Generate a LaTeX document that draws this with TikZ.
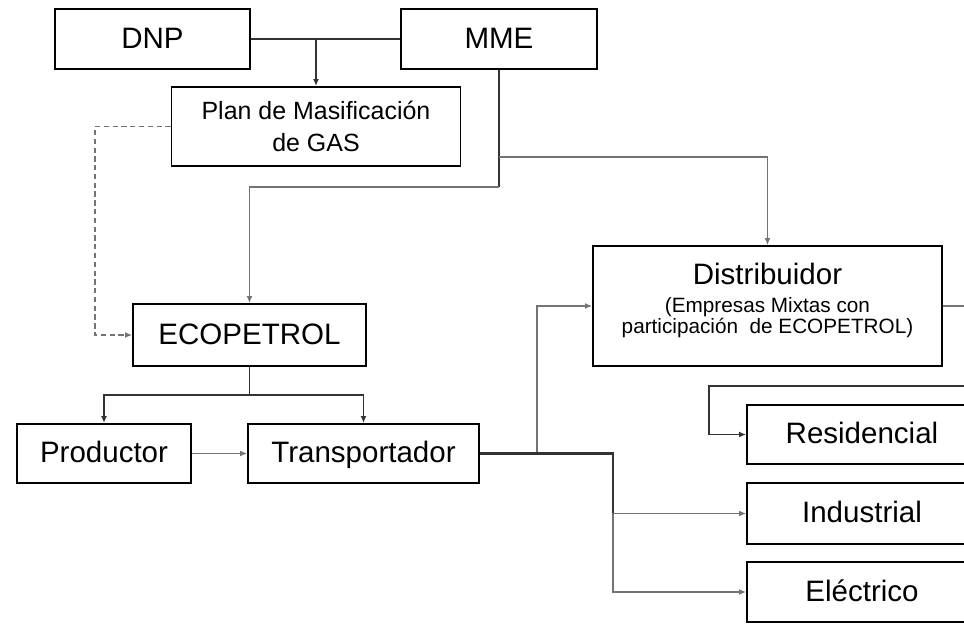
\documentclass[tikz,border=0pt]{standalone}
\usepackage{fontspec}
\setmainfont{Liberation Sans}
\usepackage{tikz}
\usepackage{tkz-euclide}
\usetikzlibrary{arrows.meta}

\tikzset{
  caja/.style={draw,line width=1.1pt,fill=white,inner sep=0pt,align=center,
    font=\fontsize{16.8}{20}\selectfont,text height=12pt,text depth=1.5pt},
  linea/.style={draw=black!80,line width=0.9pt},
  fina/.style={draw=black!55,line width=0.7pt},
  punta/.style={-{Latex[length=4pt,width=3.4pt]}}
}
\newcommand{\chica}{\fontsize{11.8}{12}\selectfont}

\begin{document}
\begin{tikzpicture}[x=0.02cm,y=-0.02cm]
    \useasboundingbox (0,0) rectangle (964,624);
    \clip (0,0) rectangle (964,624);
    \tkzDefPoints{152.5/39/A,499/39/B,316/126.5/C,249.5/335/D,104/453.5/E,363.5/453.5/F,767.5/306/G,862/434.5/H,862/513.5/I,862/592/J}
    \tkzDefPoints{499/187/M,499/157/N,95/126.5/O,249.5/395/P,537/453.5/Q,613/453.5/R,709/386/S,990/386/T,990/306/U}
    \node[caja,minimum width=3.9cm,minimum height=1.2cm] (DNP) at (A) {DNP};
    \node[caja,minimum width=3.92cm,minimum height=1.2cm] (MME) at (B) {MME};
    \node[caja,minimum width=5.78cm,minimum height=1.58cm,text height=,text depth=,
      font=\fontsize{14.2}{18}\selectfont] (PMG) at (C) {Plan de Masificación\\de GAS};
    \node[caja,minimum width=4.66cm,minimum height=1.24cm] (ECO) at (D) {ECOPETROL};
    \node[caja,minimum width=3.48cm,minimum height=1.18cm] (PRO) at (E) {Productor};
    \node[caja,minimum width=4.62cm,minimum height=1.18cm] (TRA) at (F) {Transportador};
    \node[caja,minimum width=6.98cm,minimum height=2.4cm] (DIS) at (G) {};
    \node[align=center,inner sep=0pt,font=\fontsize{16.8}{20}\selectfont,yshift=3pt] at (G)
      {Distribuidor\\[-4pt]\chica (Empresas Mixtas con\\[-8pt]\chica participación\ \ de ECOPETROL)};
    \node[caja,minimum width=4.6cm,minimum height=1.18cm] (RES) at (H) {Residencial};
    \node[caja,minimum width=4.6cm,minimum height=1.22cm] (IND) at (I) {Industrial};
    \node[caja,minimum width=4.6cm,minimum height=1.2cm] (ELE) at (J) {Eléctrico};

    \draw[linea] (DNP) -- (MME);
    \draw[linea,punta] (PMG.north |- DNP) -- (PMG);
    \draw[linea] (MME) -- (M);
    \draw[fina,punta] (M) -| (ECO);
    \draw[fina,punta] (N) -| (DIS);
    \draw[fina,dash pattern=on 3pt off 2pt,punta] (PMG.west) -- (O) |- (ECO);
    \draw[linea] (ECO) -- (P);
    \draw[linea,punta] (P) -| (PRO);
    \draw[linea,punta] (P) -| (TRA);
    \draw[fina,punta] (PRO) -- (TRA);
    \draw[fina,punta] (Q) |- (DIS);
    \draw[linea,line width=1.4pt] (TRA) -- (R) -- (R |- I);
    \draw[fina,punta] (R |- I) -- (IND);
    \draw[fina,punta] (R |- I) |- (ELE);
    \draw[fina] (DIS) -- (U);
    \draw[linea,punta] (T) -- (S) |- (RES);
  \end{tikzpicture}
\end{document}
